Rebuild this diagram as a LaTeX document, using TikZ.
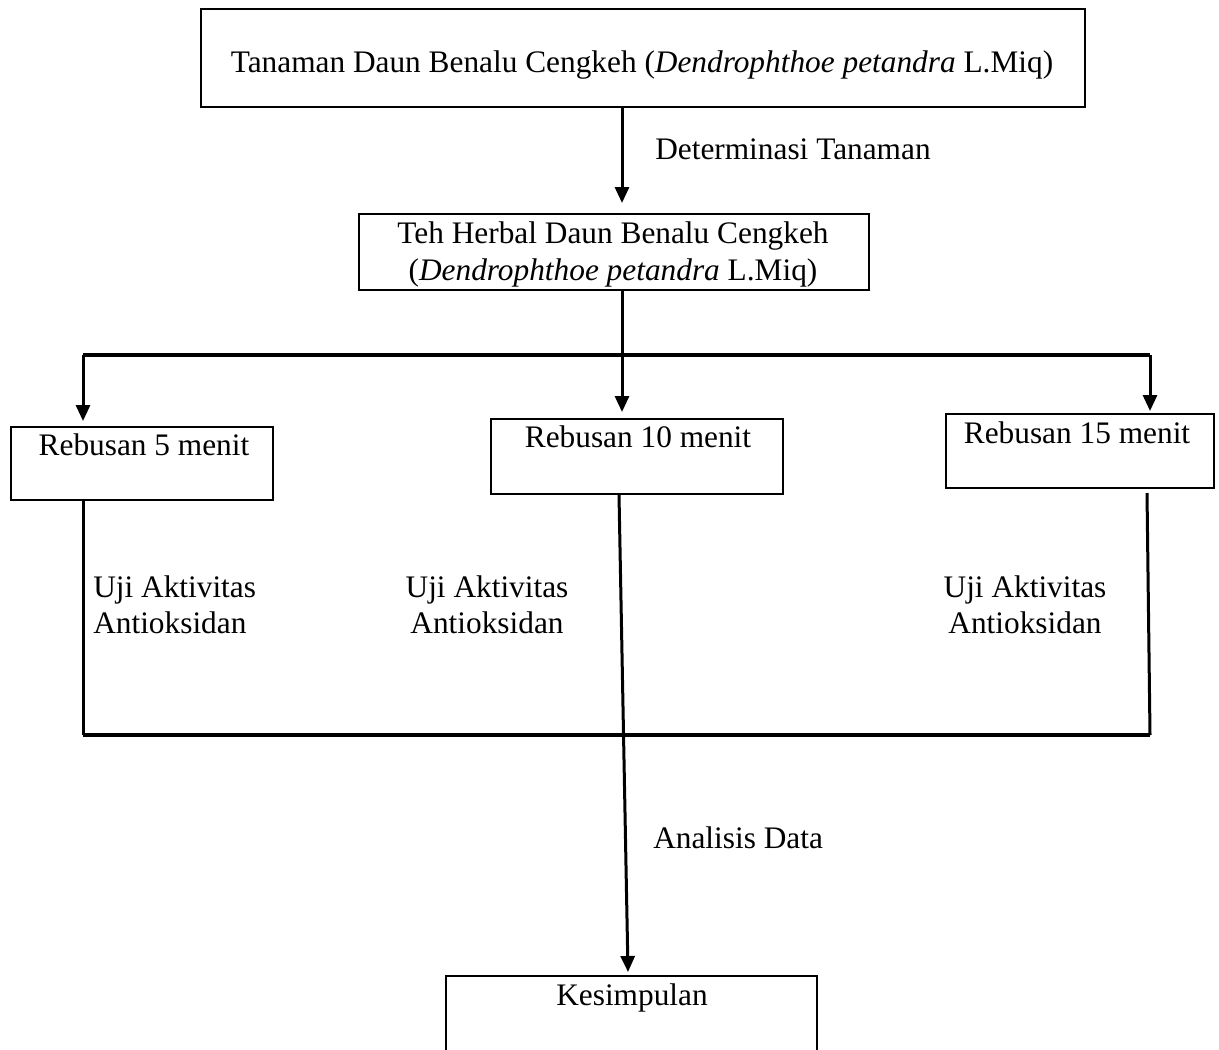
\documentclass[tikz,border=0pt]{standalone}
\usepackage{fontspec}
\setmainfont{Liberation Serif}
\usetikzlibrary{arrows.meta,calc}
\begin{document}
\begin{tikzpicture}[x=0.75pt,y=-0.75pt,
  box/.style={draw,line width=1.5pt,inner sep=0pt},
  txt/.style={inner sep=0pt,font=\fontsize{23.5}{27}\selectfont},
  conn/.style={line width=2.25pt},
  bar/.style={line width=3pt},
  arr/.style={conn,-{Triangle[length=12pt,width=10.5pt]}}]
\useasboundingbox (0,0) rectangle (1219,1049);
\clip (0,0) rectangle (1219,1049);
% boxes
\node[box,minimum width=663pt,minimum height=73.5pt] (top) at (643,58) {};
\node[box,minimum width=382.5pt,minimum height=57pt] (b2) at (614,252) {};
\node[box,minimum width=196.5pt,minimum height=54.75pt] (r5) at (142,463.5) {};
\node[box,minimum width=219pt,minimum height=56.25pt] (r10) at (637,456.5) {};
\node[box,minimum width=201pt,minimum height=55.5pt] (r15) at (1080,451) {};
\node[box,minimum width=278.25pt,minimum height=78pt] (kes) at (631.5,1028) {};
% texts
\node[txt,anchor=base] (ttop) at (642,72) {Tanaman Daun Benalu Cengkeh (\textit{Dendrophthoe petandra} L.Miq)};
\node[txt,anchor=base] (tb2a) at (613,243) {Teh Herbal Daun Benalu Cengkeh};
\node[txt,anchor=base] (tb2b) at (613,280) {(\textit{Dendrophthoe petandra} L.Miq)};
\node[txt,anchor=base] (t5) at (144,455) {Rebusan 5 menit};
\node[txt,anchor=base] (t10) at (638,447) {Rebusan 10 menit};
\node[txt,anchor=base] (t15) at (1077,443) {Rebusan 15 menit};
\node[txt,anchor=base] (tkes) at (632,1005) {Kesimpulan};
\node[txt,anchor=base west] (ldet) at (655,159) {Determinasi Tanaman};
\node[txt,anchor=base west] (lana) at (653,848) {Analisis Data};
\node[txt,anchor=base west,align=left] (lu1) at (93,633) {Uji Aktivitas\\Antioksidan};
\node[txt,anchor=base,align=center] (lu2) at (487,633) {Uji Aktivitas\\Antioksidan};
\node[txt,anchor=base,align=center] (lu3) at (1025,633) {Uji Aktivitas\\Antioksidan};
% junction coordinates
\coordinate (tl) at (83,355);
\coordinate (tr) at (1150,355);
\coordinate (bl) at (83,735);
\coordinate (br) at (1150,735);
\coordinate (cx) at (622,0);
% connectors
\draw[arr] (top.south -| cx) -- ($(b2.north -| cx)+(0,-10)$);
\draw[arr] (b2.south -| cx) -- ($(r10.north -| cx)+(0,-6)$);
\draw[bar] (tl) -- (tr);
\draw[arr] (tl) -- ($(r5.north -| tl)+(0,-5)$);
\draw[arr] (tr) -- ($(r15.north -| tr)+(0,-2)$);
\draw[conn] (r5.south -| bl) -- (bl);
\draw[conn] ($(r15.south -| 1147,0)+(0,4)$) -- (br);
\draw[bar] (bl) -- (br);
\draw[arr] (r10.south -| 619,0) -- ($(kes.north -| 628,0)+(0,-3)$);
\end{tikzpicture}
\end{document}
